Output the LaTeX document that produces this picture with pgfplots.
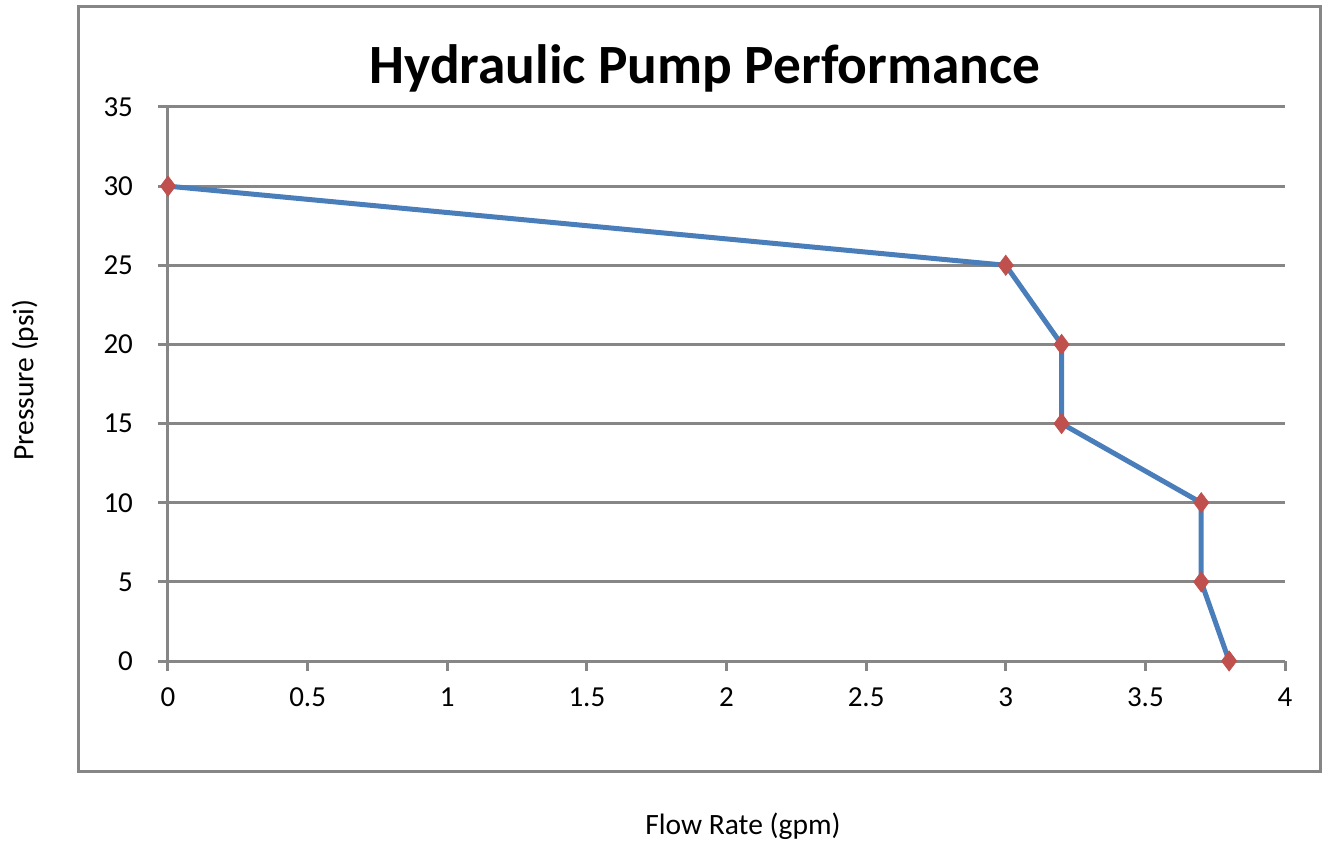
\documentclass[border=0pt]{standalone}
\usepackage{pgfplots}
\pgfplotsset{compat=1.18}
\usepackage{fontspec}
\setmainfont{Carlito}
\definecolor{gridgray}{HTML}{868686}
\definecolor{lineblue}{HTML}{4A7EBB}
\definecolor{markred}{HTML}{C0504D}
\begin{document}
\begin{tikzpicture}
\useasboundingbox (0,0) rectangle (661pt,-422.5pt);
\draw[gridgray, line width=1.5pt] (39pt,-3.5pt) rectangle (660pt,-385.5pt);
\begin{axis}[
  at={(84pt,-330.5pt)}, anchor=south west,
  scale only axis, width=558.5pt, height=277pt,
  xmin=0, xmax=4, ymin=0, ymax=35,
  xtick={0,0.5,1,1.5,2,2.5,3,3.5,4},
  ytick={0,5,10,15,20,25,30,35},
  axis x line=bottom, axis y line=left,
  axis line style={gridgray, line width=1.5pt, -},
  ymajorgrids, grid style={gridgray, line width=1.5pt},
  tick style={gridgray, line width=1.5pt},
  tick align=outside, major tick length=5pt,
  tick label style={font=\fontsize{14.5}{17}\selectfont, text=black},
  xticklabel shift=5pt, yticklabel shift=9pt,
  /pgf/number format/assume math mode=true,
  clip=false,
]
\addplot[lineblue, line width=2.5pt, mark=diamond*, mark size=5pt,
  mark options={draw=markred, fill=markred, line width=0.4pt}]
  coordinates {(0,30) (3,25) (3.2,20) (3.2,15) (3.7,10) (3.7,5) (3.8,0)};
\end{axis}
\node[font=\bfseries\fontsize{27.7}{32}\selectfont] at (352.5pt,-34pt) {Hydraulic Pump Performance};
\node[rotate=90, font=\fontsize{14.75}{17}\selectfont] at (12.5pt,-190pt) {Pressure (psi)};
\node[font=\fontsize{14.75}{17}\selectfont] at (371.5pt,-413pt) {Flow Rate (gpm)};
\end{tikzpicture}
\end{document}
